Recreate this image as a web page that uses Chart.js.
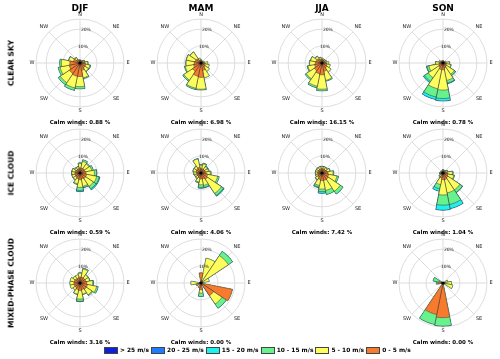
<!DOCTYPE html>
<html>
<head>
<meta charset="utf-8">
<script src="https://cdn.jsdelivr.net/npm/chart.js@4.4.1/dist/chart.umd.min.js"></script>
<style>
  html, body { margin: 0; padding: 0; background: #fff; }
  #fig { position: relative; width: 500px; height: 359px; overflow: hidden; font-family: "DejaVu Sans", sans-serif; color: #000; }
  .rose { position: absolute; }
  .title, .row-label, .calm, #legend { will-change: transform; }
  .title { position: absolute; font-weight: bold; font-size: 9px; white-space: nowrap; transform: translate(-50%, -50%); }
  .row-label { position: absolute; font-weight: bold; font-size: 7.5px; white-space: nowrap; transform: translate(-50%, -50%) rotate(-90deg); }
  .calm { position: absolute; font-weight: bold; font-size: 5.5px; white-space: nowrap; transform: translate(-50%, -50%); }
  #legend { position: absolute; left: 104px; top: 346px; height: 8px; display: flex; align-items: center; gap: 2px; font-weight: bold; font-size: 5.9px; white-space: nowrap; }
  #legend .item { display: flex; align-items: center; gap: 2px; }
  #legend .box { width: 12px; height: 5px; border: 0.6px solid #444; }
</style>
</head>
<body>
<div id="fig">
  <div id="legend"></div>
</div>
<script>
// 16 sectors, clockwise from N
const directions = ["N", "NNE", "NE", "ENE", "E", "ESE", "SE", "SSE", "S", "SSW", "SW", "WSW", "W", "WNW", "NW", "NNW"];
const speedBins = ["0 - 5 m/s", "5 - 10 m/s", "10 - 15 m/s", "15 - 20 m/s", "20 - 25 m/s", "> 25 m/s"];
const speedColors = ["#f77a2e", "#fdfd5c", "#68f28c", "#1ff2ee", "#1f7cff", "#0d22d8"];
const seasons = ["DJF", "MAM", "JJA", "SON"];
const cloudTypes = ["CLEAR SKY", "ICE CLOUD", "MIXED-PHASE CLOUD"];
const compassLabels = ["N", "NE", "E", "SE", "S", "SW", "W", "NW"];
const radialTicks = [10, 20];
const radialMax = 26;

// calm winds (%) per cloud type x season (null = no panel)
const calmWinds = [
  [0.88, 6.98, 16.15, 0.78],
  [0.59, 4.06, 7.42, 1.04],
  [3.16, 0.00, null, 0.00]
];

// frequency (%) per speed bin (rows: 0-5, 5-10, 10-15, 15-20 ...) per direction
const clearDJF = [
  [1.5, 1.2, 1.5, 2.0, 3.0, 3.5, 3.5, 4.5, 8.0, 8.0, 7.5, 6.5, 6.0, 4.0, 2.5, 1.5],
  [0.4, 0.3, 0.5, 0.8, 1.5, 2.5, 2.5, 4.5, 6.0, 7.0, 6.5, 5.5, 5.0, 2.7, 1.3, 0.5],
  [0.0, 0.0, 0.0, 0.2, 0.3, 0.5, 0.3, 0.5, 1.3, 1.5, 1.5, 1.2, 1.0, 0.3, 0.2, 0.0]
];
const clearMAM = [
  [1.2, 1.0, 1.0, 1.2, 2.0, 2.5, 3.0, 4.5, 8.5, 8.0, 6.0, 4.5, 4.0, 3.5, 3.0, 1.5],
  [0.8, 0.5, 0.5, 0.8, 2.0, 2.5, 3.0, 4.5, 7.0, 7.2, 6.2, 5.0, 4.8, 5.3, 4.8, 1.5],
  [0.0, 0.0, 0.0, 0.0, 0.0, 0.0, 0.0, 0.0, 0.5, 0.8, 0.8, 0.5, 0.2, 0.2, 0.2, 0.0]
];
const clearJJA = [
  [2.0, 1.8, 1.8, 2.0, 2.5, 3.0, 3.5, 5.0, 7.0, 6.5, 5.5, 4.5, 4.0, 3.5, 3.0, 2.2],
  [1.0, 0.7, 0.7, 1.0, 1.5, 2.0, 3.0, 5.5, 8.5, 7.5, 5.7, 4.0, 3.3, 3.3, 1.8, 1.2],
  [0.0, 0.0, 0.0, 0.0, 0.0, 0.0, 0.0, 0.5, 1.0, 1.0, 0.8, 0.5, 0.2, 0.2, 0.2, 0.1]
];
const clearSON = [
  [0.8, 0.7, 0.7, 1.0, 1.5, 2.0, 2.5, 3.0, 4.0, 4.0, 3.0, 2.5, 2.0, 1.2, 0.8, 0.8],
  [0.7, 0.5, 0.5, 1.0, 2.3, 2.7, 5.5, 7.5, 12.0, 11.5, 7.5, 6.0, 2.3, 1.2, 0.7, 0.7],
  [0.0, 0.0, 0.0, 0.0, 0.2, 0.3, 0.9, 1.6, 5.0, 5.0, 2.7, 1.2, 0.2, 0.1, 0.0, 0.0],
  [0.0, 0.0, 0.0, 0.0, 0.0, 0.0, 0.1, 0.4, 1.5, 1.5, 0.8, 0.3, 0.0, 0.0, 0.0, 0.0]
];
const iceDJF = [
  [3.0, 3.0, 3.0, 3.0, 3.5, 4.0, 4.0, 3.5, 4.0, 3.5, 3.0, 3.0, 3.0, 3.0, 2.5, 2.5],
  [2.5, 4.0, 3.5, 4.0, 5.0, 6.0, 5.5, 4.5, 4.5, 3.0, 1.8, 1.8, 1.8, 1.8, 1.3, 1.3],
  [0.5, 1.0, 0.5, 1.0, 1.3, 1.5, 1.8, 0.8, 1.8, 0.5, 0.2, 0.2, 0.2, 0.2, 0.2, 0.2],
  [0.0, 0.0, 0.0, 0.0, 0.2, 0.5, 0.7, 0.2, 0.7, 0.0, 0.0, 0.0, 0.0, 0.0, 0.0, 0.0]
];
const iceMAM = [
  [2.5, 2.5, 2.5, 2.5, 3.0, 4.0, 4.5, 3.5, 3.5, 3.0, 2.5, 2.5, 2.5, 3.0, 3.0, 3.5],
  [2.0, 3.0, 2.0, 2.0, 2.5, 6.0, 10.0, 4.0, 3.5, 2.5, 1.3, 1.3, 1.8, 1.8, 1.8, 5.0],
  [0.5, 0.5, 0.5, 0.5, 0.5, 1.0, 1.5, 1.2, 1.5, 0.5, 0.2, 0.2, 0.2, 0.2, 0.2, 0.2],
  [0.0, 0.0, 0.0, 0.0, 0.0, 0.0, 0.5, 0.3, 0.5, 0.0, 0.0, 0.0, 0.0, 0.0, 0.0, 0.0]
];
const iceJJA = [
  [2.5, 2.5, 2.5, 3.0, 3.5, 4.0, 4.5, 4.5, 4.5, 4.0, 3.0, 2.5, 2.5, 2.5, 2.5, 2.5],
  [1.3, 1.3, 1.3, 1.7, 3.0, 5.0, 8.5, 6.0, 5.0, 3.5, 1.7, 1.3, 1.3, 1.3, 1.3, 1.3],
  [0.2, 0.2, 0.2, 0.3, 0.5, 1.0, 2.0, 2.5, 1.5, 1.0, 0.3, 0.2, 0.2, 0.2, 0.2, 0.2],
  [0.0, 0.0, 0.0, 0.0, 0.0, 0.0, 0.0, 0.0, 1.0, 0.5, 0.0, 0.0, 0.0, 0.0, 0.0, 0.0]
];
const iceSON = [
  [1.0, 0.8, 1.0, 1.5, 2.5, 3.0, 3.5, 4.0, 4.0, 3.0, 1.5, 1.0, 1.0, 0.8, 0.8, 0.8],
  [0.8, 0.6, 0.8, 1.3, 3.0, 3.5, 8.5, 8.0, 9.0, 4.0, 1.2, 0.8, 0.8, 0.6, 0.6, 0.6],
  [0.2, 0.1, 0.2, 0.2, 0.5, 0.5, 1.8, 7.0, 6.0, 2.5, 0.3, 0.2, 0.2, 0.1, 0.1, 0.1],
  [0.0, 0.0, 0.0, 0.0, 0.0, 0.0, 0.2, 2.5, 3.0, 1.5, 0.0, 0.0, 0.0, 0.0, 0.0, 0.0]
];
const mixedDJF = [
  [3.5, 3.5, 3.5, 3.5, 4.0, 4.5, 4.5, 4.0, 4.5, 4.0, 3.5, 3.5, 3.5, 3.5, 3.0, 3.0],
  [2.3, 5.0, 2.3, 2.3, 3.5, 5.5, 4.0, 2.7, 5.0, 2.7, 1.5, 2.5, 2.5, 2.5, 2.0, 2.0],
  [0.2, 0.5, 0.2, 0.2, 0.5, 1.0, 0.5, 0.3, 1.3, 0.3, 0.0, 0.0, 0.0, 0.0, 0.0, 0.0],
  [0.0, 0.0, 0.0, 0.0, 0.0, 0.0, 0.0, 0.0, 0.2, 0.0, 0.0, 0.0, 0.0, 0.0, 0.0, 0.0]
];
const mixedMAM = [
  [6.0, 1.5, 1.0, 1.0, 0.0, 19.0, 9.0, 0.0, 4.0, 3.0, 0.0, 3.0, 1.0, 0.0, 0.0, 0.0],
  [0.0, 13.5, 18.5, 4.0, 0.0, 0.0, 6.0, 0.0, 2.0, 0.0, 0.0, 0.0, 5.0, 0.0, 0.0, 0.0],
  [0.0, 0.0, 3.0, 0.0, 0.0, 0.0, 3.0, 0.0, 2.0, 0.0, 0.0, 0.0, 0.0, 0.0, 0.0, 0.0]
];
const mixedSON = [
  [0.0, 0.0, 0.0, 0.0, 1.0, 1.0, 0.0, 0.0, 20.5, 19.0, 0.0, 0.0, 3.0, 1.0, 0.0, 0.0],
  [0.0, 0.0, 0.0, 3.0, 4.0, 5.0, 0.0, 0.0, 0.0, 0.0, 0.0, 0.0, 0.0, 1.0, 0.0, 0.0],
  [0.0, 0.0, 0.0, 0.0, 0.0, 0.0, 0.0, 0.0, 5.0, 6.0, 0.0, 0.0, 1.0, 4.0, 0.0, 0.0]
];

const roses = [
  [clearDJF, clearMAM, clearJJA, clearSON],
  [iceDJF, iceMAM, iceJJA, iceSON],
  [mixedDJF, mixedMAM, null, mixedSON]
];

// layout
const colX = [80, 201, 322, 443];
const rowY = [63, 173, 283];
const canvasW = 120;
const canvasH = 108;
const gridColor = "#d4d4d4";
const fig = document.getElementById("fig");

const roseDecor = {
  id: "roseDecor",
  beforeDatasetsDraw(chart) {
    const s = chart.scales.r;
    const ctx = chart.ctx;
    ctx.save();
    ctx.strokeStyle = gridColor;
    ctx.lineWidth = 0.8;
    for (let k = 0; k < 8; k++) {
      const a = k * Math.PI / 4 - Math.PI / 2;
      ctx.beginPath();
      ctx.moveTo(s.xCenter, s.yCenter);
      ctx.lineTo(s.xCenter + s.drawingArea * Math.cos(a), s.yCenter + s.drawingArea * Math.sin(a));
      ctx.stroke();
    }
    ctx.restore();
  },
  afterDatasetsDraw(chart) {
    const s = chart.scales.r;
    const ctx = chart.ctx;
    ctx.save();
    // calm dot
    ctx.fillStyle = "#000";
    ctx.beginPath();
    ctx.arc(s.xCenter, s.yCenter, 1.6, 0, Math.PI * 2);
    ctx.fill();
    // compass
    ctx.fillStyle = "#222";
    ctx.font = "5px 'DejaVu Sans'";
    ctx.textAlign = "center";
    ctx.textBaseline = "middle";
    compassLabels.forEach((lab, k) => {
      const a = k * Math.PI / 4 - Math.PI / 2;
      const r = s.drawingArea + (k % 2 ? 7 : 4);
      ctx.fillText(lab, s.xCenter + r * Math.cos(a), s.yCenter + r * Math.sin(a));
    });
    // radial tick labels
    ctx.font = "4.5px 'DejaVu Sans'";
    const ta = 10 * Math.PI / 180 - Math.PI / 2;
    radialTicks.forEach((v) => {
      const r = s.getDistanceFromCenterForValue(v);
      ctx.fillText(v + "%", s.xCenter + r * Math.cos(ta), s.yCenter + r * Math.sin(ta));
    });
    ctx.restore();
  }
};

function cumulative(bins) {
  const out = [];
  let run = directions.map(() => 0);
  speedBins.forEach((_, k) => {
    const own = bins[k] || directions.map(() => 0);
    run = run.map((v, i) => v + own[i]);
    out.push({ own, cum: run.slice() });
  });
  return out;
}

function drawRose(bins, cx, cy) {
  const canvas = document.createElement("canvas");
  canvas.className = "rose";
  canvas.width = canvasW;
  canvas.height = canvasH;
  canvas.style.left = (cx - canvasW / 2) + "px";
  canvas.style.top = (cy - canvasH / 2) + "px";
  fig.appendChild(canvas);

  const stacks = cumulative(bins);
  new Chart(canvas.getContext("2d"), {
    type: "polarArea",
    data: {
      labels: directions,
      datasets: stacks.map((st, k) => ({
        label: speedBins[k],
        data: st.cum,
        backgroundColor: speedColors[k],
        borderColor: "#333",
        borderWidth: (c) => (st.own[c.dataIndex] > 0 ? 0.5 : 0)
      }))
    },
    options: {
      responsive: false,
      animation: false,
      events: [],
      layout: { padding: { left: 16, right: 16, top: 10, bottom: 10 } },
      plugins: { legend: { display: false }, tooltip: { enabled: false } },
      scales: {
        r: {
          min: 0,
          max: radialMax,
          startAngle: -11.25,
          afterBuildTicks: (scale) => {
            scale.ticks = [0, ...radialTicks, radialMax].map((v) => ({ value: v }));
          },
          ticks: { display: false },
          grid: { color: gridColor, lineWidth: 0.8 },
          angleLines: { display: false },
          pointLabels: { display: false }
        }
      }
    },
    plugins: [roseDecor]
  });
}

function addText(cls, text, x, y) {
  const d = document.createElement("div");
  d.className = cls;
  d.textContent = text;
  d.style.left = x + "px";
  d.style.top = y + "px";
  fig.appendChild(d);
}

seasons.forEach((s, j) => addText("title", s, colX[j], 8));
cloudTypes.forEach((c, i) => addText("row-label", c, 11, rowY[i]));

roses.forEach((row, i) => {
  row.forEach((bins, j) => {
    if (!bins) return;
    drawRose(bins, colX[j], rowY[i]);
    addText("calm", "Calm winds: " + calmWinds[i][j].toFixed(2) + " %", colX[j], rowY[i] + 59);
  });
});

const legend = document.getElementById("legend");
speedBins.slice().reverse().forEach((lab, k) => {
  const item = document.createElement("div");
  item.className = "item";
  const box = document.createElement("span");
  box.className = "box";
  box.style.background = speedColors[speedBins.length - 1 - k];
  const t = document.createElement("span");
  t.textContent = lab;
  item.append(box, t);
  legend.appendChild(item);
});
</script>
</body>
</html>
